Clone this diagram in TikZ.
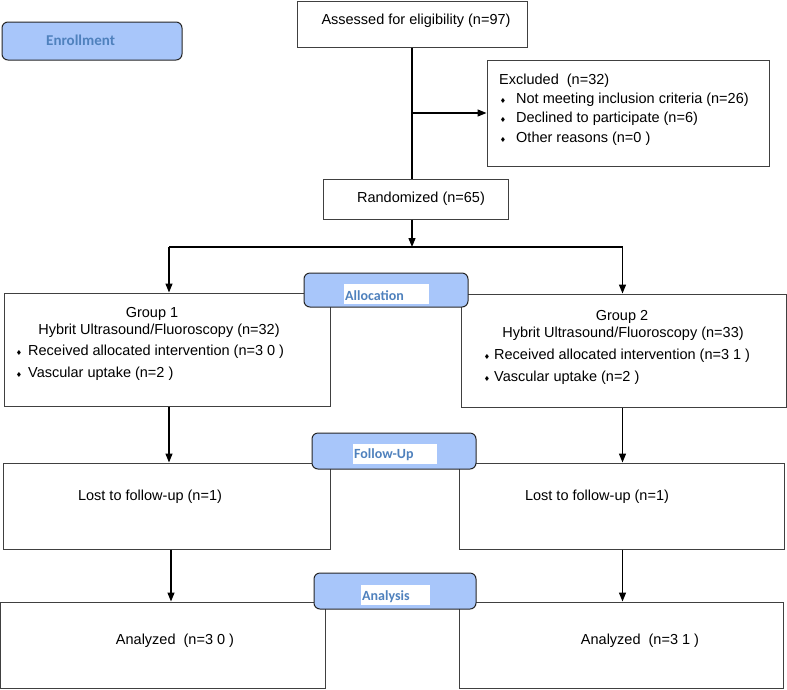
\documentclass[tikz,border=0pt]{standalone}
\usepackage{fontspec}
\setmainfont{Liberation Sans}
\newfontfamily\carl{Carlito}
\newfontfamily\djv{DejaVu Sans}
\usetikzlibrary{arrows.meta}
\definecolor{phasefill}{HTML}{A8C6FA}
\definecolor{phasetext}{HTML}{4F81BD}
\definecolor{boxline}{HTML}{404040}
\newcommand{\bul}{{\djv\fontsize{7}{7}\selectfont ♦}}
\begin{document}
\begin{tikzpicture}[x=1pt,y=-1pt,
  box/.style={draw=boxline, line width=1pt, rectangle, inner sep=0pt, fill=white},
  phase/.style={draw=black!85, line width=1pt, rounded corners=6pt, fill=phasefill, inner sep=0pt},
  ptxt/.style={font=\carl\bfseries\fontsize{14}{16}\selectfont, text=phasetext, inner sep=0pt, anchor=west},
  lbl/.style={fill=white, inner sep=0pt},
  txt/.style={font=\fontsize{14.5}{17}\selectfont, inner sep=0pt},
  ltxt/.style={txt, anchor=west},
  bl/.style={inner sep=0pt},
  conn/.style={line width=1.3pt, draw=black},
  arr/.style={conn, -{Triangle[length=9pt,width=7pt]}},
]
\useasboundingbox (0,0) rectangle (787,689);

% ---------- boxes ----------
\node[box, minimum width=230pt, minimum height=46pt] (assess) at (412,24) {};
\node[txt] (assesst) at (416,21) {Assessed for eligibility (n=97)};

\node[box, minimum width=282pt, minimum height=106pt] (excl) at (628,113) {};
\node[ltxt] (ex0) at (499,81) {Excluded\ \ (n=32)};
\node[bl] (exb1) at (503,101) {\bul};
\node[ltxt] (ex1) at (516,100) {Not meeting inclusion criteria (n=26)};
\node[bl] (exb2) at (503,120) {\bul};
\node[ltxt] (ex2) at (516,119) {Declined to participate (n=6)};
\node[bl] (exb3) at (503,140) {\bul};
\node[ltxt] (ex3) at (516,139) {Other reasons (n=0 )};

\node[box, minimum width=185pt, minimum height=40pt] (rand) at (415.5,199) {};
\node[txt] (randt) at (421,199) {Randomized (n=65)};

\node[box, minimum width=326pt, minimum height=113pt] (g1) at (167,349.5) {};
\node[txt] (g1a) at (152,314) {Group 1};
\node[txt] (g1b) at (159,331) {Hybrit Ultrasound/Fluoroscopy (n=32)};
\node[bl] (g1b1) at (19,353) {\bul};
\node[ltxt] (g1c) at (28,352) {Received allocated intervention (n=3 0 )};
\node[bl] (g1b2) at (19,375) {\bul};
\node[ltxt] (g1d) at (28,374) {Vascular uptake (n=2 )};

\node[box, minimum width=325pt, minimum height=113pt] (g2) at (623.5,350.5) {};
\node[txt] (g2a) at (622,317) {Group 2};
\node[txt] (g2b) at (623,334) {Hybrit Ultrasound/Fluoroscopy (n=33)};
\node[bl] (g2b1) at (487,357) {\bul};
\node[ltxt] (g2c) at (494,356) {Received allocated intervention (n=3 1 )};
\node[bl] (g2b2) at (487,379) {\bul};
\node[ltxt] (g2d) at (494,378) {Vascular uptake (n=2 )};

\node[box, minimum width=327pt, minimum height=86pt] (lost1) at (166.5,506) {};
\node[txt] (lost1t) at (150,497) {Lost to follow-up (n=1)};
\node[box, minimum width=325pt, minimum height=86pt] (lost2) at (621.5,506) {};
\node[txt] (lost2t) at (597,497) {Lost to follow-up (n=1)};

\node[box, minimum width=325pt, minimum height=86pt] (an1) at (162.5,645) {};
\node[txt] (an1t) at (175,641) {Analyzed\ \ (n=3 0 )};
\node[box, minimum width=324pt, minimum height=86pt] (an2) at (621,645) {};
\node[txt] (an2t) at (640,641) {Analyzed\ \ (n=3 1 )};

% ---------- phase labels ----------
\node[phase, minimum width=180pt, minimum height=38pt] (enroll) at (92,41) {};
\node[ptxt, font=\carl\bfseries\fontsize{15}{17}\selectfont] (enrollt) at (46,40) {Enrollment};

\node[phase, minimum width=164pt, minimum height=34pt] (alloc) at (386,290) {};
\node[lbl, minimum width=85pt, minimum height=20pt] (allocl) at (386.5,294) {};
\node[ptxt] (alloct) at (345,296) {Allocation};

\node[phase, minimum width=164pt, minimum height=36pt] (follow) at (394,451) {};
\node[lbl, minimum width=84pt, minimum height=20pt] (followl) at (395,454) {};
\node[ptxt] (followt) at (354,455) {Follow-Up};

\node[phase, minimum width=162pt, minimum height=36pt] (analysis) at (395,591) {};
\node[lbl, minimum width=69pt, minimum height=20pt] (analysisl) at (395.5,595) {};
\node[ptxt] (analysist) at (362,597) {Analysis};

% ---------- connectors ----------
\coordinate (c0) at (412,0);
\coordinate (c1) at (169,0);
\coordinate (c1b) at (171,0);
\coordinate (c2) at (622.5,0);
\coordinate (split) at (412,247);
\coordinate (sl) at (169,247);
\coordinate (sr) at (622.5,247);

\draw[conn] (c0 |- assess.south) -- (c0 |- rand.north);
\draw[arr] (c0 |- excl.west) -- (excl.west);
\draw[arr] (c0 |- rand.south) -- (split);
\draw[conn] (sl) -- (sr);
\draw[arr] (sl) -- (c1 |- g1.north);
\draw[arr] (sr) -- (c2 |- g2.north);
\draw[arr] (c1 |- g1.south) -- (c1 |- lost1.north);
\draw[arr] (c2 |- g2.south) -- (c2 |- lost2.north);
\draw[arr] (c1b |- lost1.south) -- (c1b |- an1.north);
\draw[arr] (c2 |- lost2.south) -- (c2 |- an2.north);
\end{tikzpicture}
\end{document}
